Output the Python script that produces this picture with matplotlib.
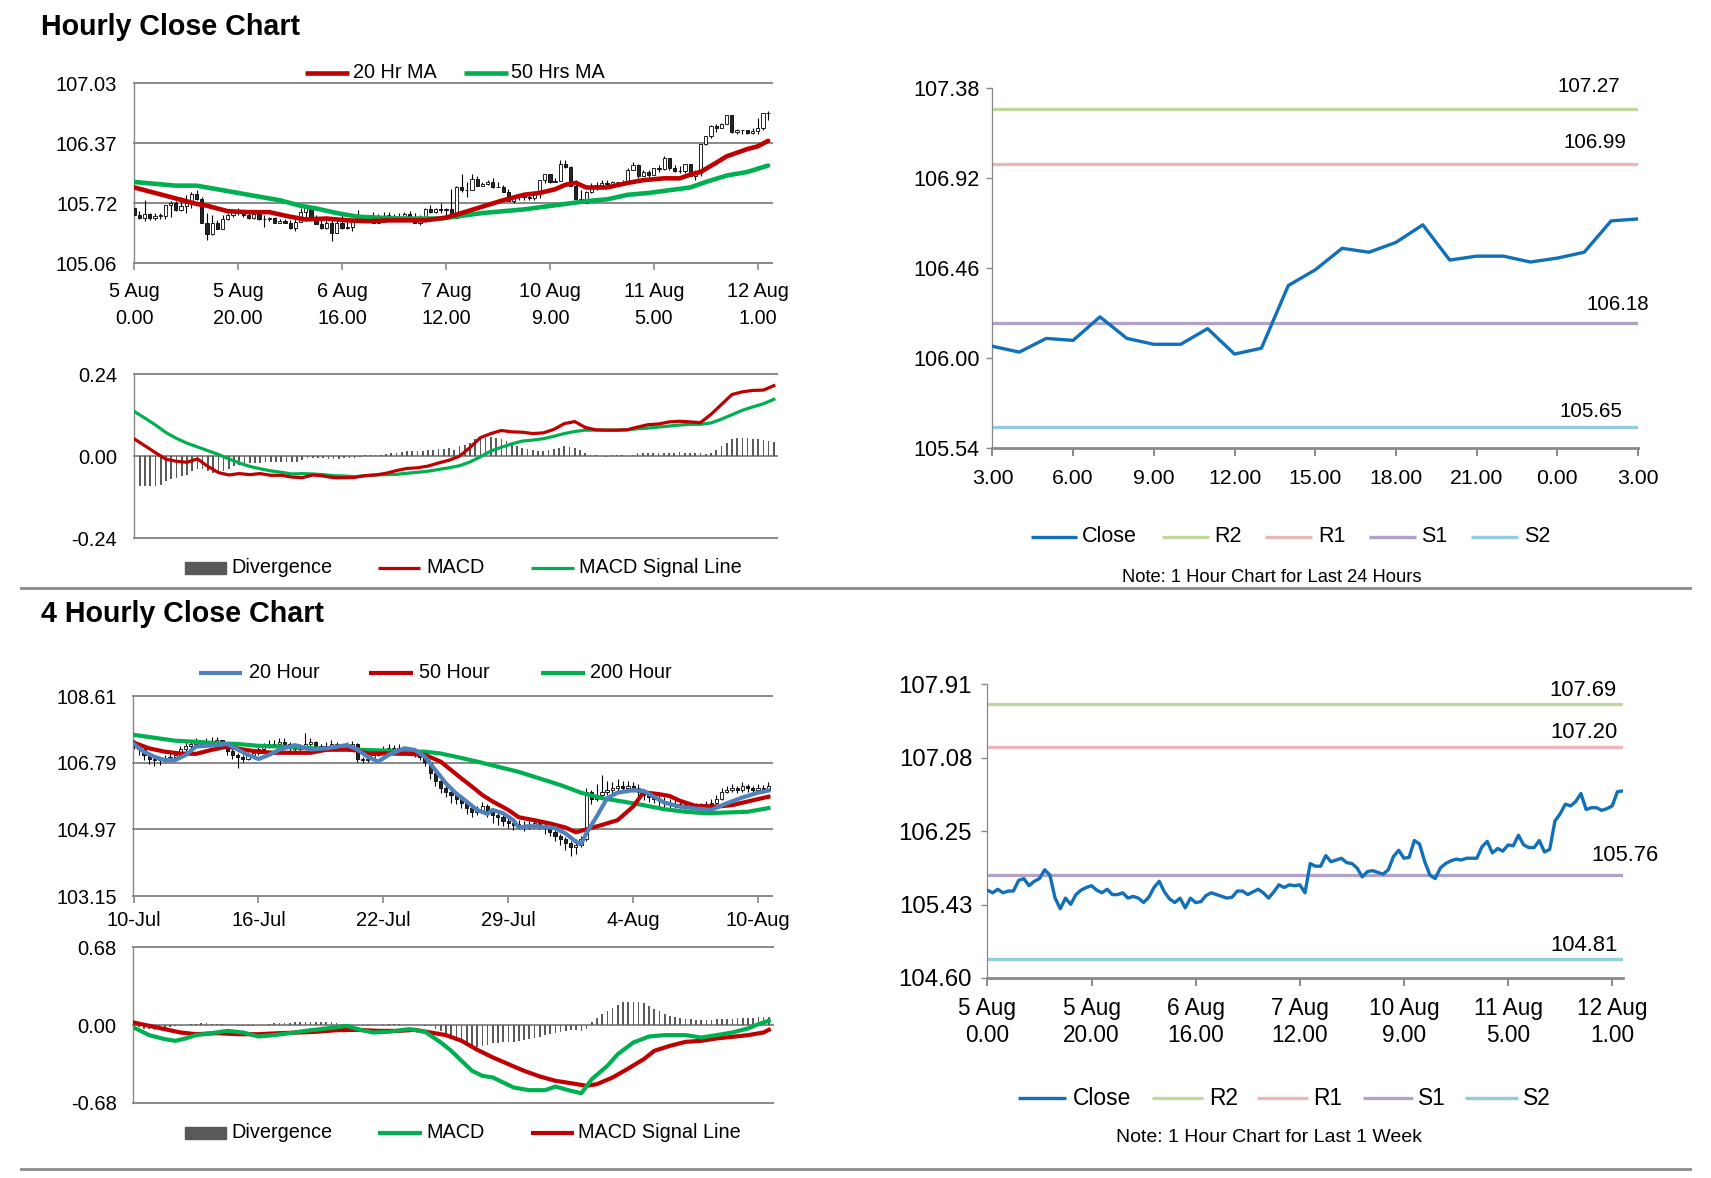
import numpy as np
import matplotlib
matplotlib.use("Agg")
import matplotlib.pyplot as plt
from matplotlib.lines import Line2D
from matplotlib.patches import Rectangle

plt.rcParams['font.family'] = ['Liberation Sans', 'DejaVu Sans']

# ---------------- data: hourly (last week) ----------------
hourly_close = [
    105.59, 105.56, 105.60, 105.56, 105.58, 105.58, 105.70, 105.72, 105.64, 105.69,
    105.72, 105.82, 105.76, 105.50, 105.38, 105.50, 105.43, 105.54, 105.59, 105.62,
    105.64, 105.59, 105.56, 105.60, 105.54, 105.54, 105.56, 105.50, 105.52, 105.50,
    105.45, 105.51, 105.62, 105.69, 105.57, 105.49, 105.45, 105.50, 105.39, 105.50,
    105.45, 105.46, 105.53, 105.56, 105.54, 105.52, 105.50, 105.51, 105.58, 105.58,
    105.54, 105.57, 105.60, 105.56, 105.50, 105.57, 105.65, 105.62, 105.65, 105.64,
    105.65, 105.56, 105.89, 105.86, 105.86, 105.98, 105.91, 105.93, 105.95, 105.90,
    105.89, 105.84, 105.74, 105.80, 105.81, 105.79, 105.77, 105.82, 105.97, 106.04,
    105.95, 105.96, 106.15, 106.11, 105.91, 105.76, 105.72, 105.84, 105.89, 105.92,
    105.94, 105.93, 105.95, 105.95, 105.95, 106.08, 106.14, 106.01,
    106.06, 106.03, 106.10, 106.09, 106.21, 106.10, 106.07, 106.07, 106.15, 106.02,
    106.05, 106.37, 106.45, 106.56, 106.54, 106.59, 106.68, 106.50, 106.52, 106.52,
    106.49, 106.51, 106.54, 106.70, 106.71]
hourly_first_open = 105.66
hourly_high = [
    105.77, 105.63, 105.75, 105.61, 105.61, 105.61, 105.70, 105.74, 105.74, 105.79,
    105.81, 105.84, 105.86, 105.79, 105.61, 105.59, 105.53, 105.59, 105.61, 105.64,
    105.66, 105.64, 105.63, 105.61, 105.61, 105.59, 105.57, 105.57, 105.55, 105.55,
    105.53, 105.55, 105.66, 105.70, 105.66, 105.59, 105.55, 105.53, 105.55, 105.55,
    105.61, 105.52, 105.50, 105.64, 105.59, 105.57, 105.62, 105.60, 105.62, 105.62,
    105.60, 105.61, 105.62, 105.63, 105.61, 105.59, 105.67, 105.70, 105.66, 105.72,
    105.66, 105.87, 105.91, 106.04, 105.95, 106.04, 106.01, 105.95, 105.97, 105.99,
    105.95, 105.92, 105.87, 105.79, 105.81, 105.79, 105.81, 105.81, 105.97, 106.04,
    106.04, 105.99, 106.19, 106.19, 106.12, 105.97, 105.86, 105.85, 105.94, 105.95,
    105.97, 105.97, 105.96, 105.95, 105.97, 106.10, 106.17, 106.15, 106.08, 106.08,
    106.10, 106.14, 106.23, 106.21, 106.14, 106.12, 106.15, 106.15, 106.08, 106.37,
    106.45, 106.57, 106.59, 106.60, 106.67, 106.67, 106.53, 106.52, 106.52, 106.54,
    106.65, 106.70, 106.73]
hourly_low = [
    105.59, 105.55, 105.52, 105.53, 105.53, 105.54, 105.55, 105.57, 105.63, 105.63,
    105.61, 105.66, 105.75, 105.50, 105.32, 105.37, 105.43, 105.44, 105.53, 105.57,
    105.59, 105.57, 105.55, 105.55, 105.53, 105.46, 105.52, 105.50, 105.50, 105.50,
    105.44, 105.41, 105.52, 105.57, 105.57, 105.50, 105.44, 105.44, 105.30, 105.39,
    105.44, 105.44, 105.41, 105.53, 105.53, 105.52, 105.52, 105.50, 105.55, 105.55,
    105.52, 105.55, 105.57, 105.57, 105.55, 105.48, 105.59, 105.61, 105.61, 105.61,
    105.59, 105.59, 105.61, 105.84, 105.79, 105.86, 105.92, 105.91, 105.92, 105.88,
    105.89, 105.86, 105.76, 105.72, 105.75, 105.75, 105.75, 105.75, 105.77, 105.94,
    105.94, 105.95, 105.97, 106.10, 105.95, 105.79, 105.75, 105.75, 105.83, 105.86,
    105.90, 105.92, 105.92, 105.92, 105.92, 105.95, 106.08, 105.99, 106.01, 106.00,
    106.03, 106.06, 106.08, 106.08, 106.06, 106.05, 106.05, 106.03, 105.97, 106.01,
    106.36, 106.43, 106.50, 106.54, 106.58, 106.49, 106.47, 106.47, 106.47, 106.47,
    106.48, 106.52, 106.63]

ma20_hours = [0, 4, 8, 12, 14, 18, 22, 26, 30, 33, 37, 41, 45, 49, 53, 56, 60, 63, 67,
              71, 75, 78, 81, 83, 85, 87, 91, 95, 98, 102, 105, 107, 109, 112, 114, 118, 120, 122]
ma20_vals = [105.89, 105.83, 105.77, 105.71, 105.69, 105.63, 105.62, 105.62, 105.57, 105.54,
             105.55, 105.53, 105.52, 105.53, 105.53, 105.53, 105.56, 105.61, 105.68, 105.75,
             105.81, 105.83, 105.87, 105.92, 105.94, 105.89, 105.89, 105.94, 105.97, 105.99,
             105.99, 106.03, 106.06, 106.16, 106.23, 106.31, 106.34, 106.40]
ma50_hours = [0, 4, 8, 12, 16, 20, 24, 28, 32, 35, 39, 43, 47, 51, 55, 59, 63, 67, 71, 75,
              79, 83, 87, 91, 95, 99, 103, 107, 110, 114, 118, 122]
ma50_vals = [105.95, 105.93, 105.91, 105.91, 105.87, 105.83, 105.79, 105.75, 105.69, 105.66,
             105.61, 105.57, 105.56, 105.55, 105.55, 105.55, 105.58, 105.61, 105.63, 105.65,
             105.68, 105.71, 105.74, 105.76, 105.81, 105.83, 105.86, 105.89, 105.95, 106.02,
             106.06, 106.13]

macd1_hours = list(range(0, 123, 2))
macd1_vals = [0.050, 0.030, 0.010, -0.009, -0.015, -0.018, -0.008, -0.030, -0.048, -0.055,
              -0.051, -0.054, -0.051, -0.056, -0.056, -0.061, -0.063, -0.055, -0.058, -0.063,
              -0.063, -0.062, -0.057, -0.055, -0.050, -0.042, -0.036, -0.034, -0.029, -0.020,
              -0.012, 0.000, 0.025, 0.054, 0.066, 0.075, 0.071, 0.070, 0.066, 0.068,
              0.078, 0.095, 0.101, 0.084, 0.077, 0.076, 0.076, 0.077, 0.085, 0.092,
              0.094, 0.100, 0.102, 0.100, 0.098, 0.122, 0.151, 0.180, 0.188, 0.192,
              0.193, 0.206]
signal1_vals = [0.130, 0.111, 0.091, 0.069, 0.052, 0.038, 0.027, 0.016, 0.005, -0.008,
                -0.020, -0.030, -0.037, -0.043, -0.047, -0.052, -0.051, -0.052, -0.054, -0.057,
                -0.058, -0.060, -0.057, -0.055, -0.054, -0.053, -0.050, -0.047, -0.044, -0.039,
                -0.034, -0.028, -0.017, -0.002, 0.015, 0.026, 0.036, 0.044, 0.047, 0.051,
                0.058, 0.066, 0.072, 0.076, 0.076, 0.076, 0.076, 0.077, 0.080, 0.082,
                0.085, 0.088, 0.091, 0.093, 0.093, 0.097, 0.108, 0.121, 0.134, 0.144,
                0.153, 0.166]
div1_vals = [
    -0.083, -0.086, -0.086, -0.086, -0.086, -0.083, -0.073, -0.066, -0.063, -0.058,
    -0.054, -0.044, -0.039, -0.037, -0.044, -0.049, -0.047, -0.042, -0.037, -0.029,
    -0.027, -0.024, -0.021, -0.021, -0.019, -0.018, -0.018, -0.018, -0.017, -0.018,
    -0.018, -0.017, -0.010, -0.005, -0.004, -0.005, -0.006, -0.008, -0.008, -0.008,
    -0.006, -0.006, -0.005, -0.002, 0.004, 0.004, 0.004, 0.004, 0.006, 0.008,
    0.010, 0.012, 0.014, 0.014, 0.014, 0.015, 0.019, 0.019, 0.021, 0.021,
    0.024, 0.019, 0.029, 0.034, 0.037, 0.049, 0.051, 0.054, 0.056, 0.054,
    0.049, 0.044, 0.037, 0.029, 0.024, 0.021, 0.018, 0.015, 0.015, 0.019,
    0.021, 0.023, 0.031, 0.027, 0.023, 0.018, 0.008, 0.004, 0.002, 0.000,
    -0.002, 0.002, 0.002, 0.002, 0.000, 0.004, 0.008, 0.010, 0.010, 0.010,
    0.010, 0.010, 0.010, 0.010, 0.012, 0.010, 0.010, 0.010, 0.008, 0.005,
    0.008, 0.019, 0.029, 0.039, 0.049, 0.054, 0.054, 0.052, 0.051, 0.049,
    0.047, 0.044, 0.041]

week_xlabels = ["5 Aug\n0.00", "5 Aug\n20.00", "6 Aug\n16.00", "7 Aug\n12.00",
                "10 Aug\n9.00", "11 Aug\n5.00", "12 Aug\n1.00"]
tl_ylabels = ["105.06", "105.72", "106.37", "107.03"]
tr_ylabels = ["105.54", "106.00", "106.46", "106.92", "107.38"]
tr_xlabels = ["3.00", "6.00", "9.00", "12.00", "15.00", "18.00", "21.00", "0.00", "3.00"]
br_ylabels = ["104.60", "105.43", "106.25", "107.08", "107.91"]
level_names = ["R2", "R1", "S1", "S2"]
levels_24h = [107.27, 106.99, 106.18, 105.65]
levels_1w = [107.69, 107.20, 105.76, 104.81]

# ---------------- data: 4 hourly ----------------
fh_close = [
    107.25, 107.15, 107.00, 106.90, 106.85, 106.85, 106.90, 106.95, 107.00, 107.15,
    107.25, 107.30, 107.35, 107.30, 107.35, 107.35, 107.40, 107.30, 107.10, 107.00,
    106.95, 106.90, 107.00, 107.05, 107.15, 107.25, 107.30, 107.30, 107.35, 107.30,
    107.20, 107.15, 107.20, 107.30, 107.35, 107.25, 107.20, 107.25, 107.30, 107.20,
    107.20, 107.25, 107.30, 106.90, 106.85, 106.90, 107.00, 107.10, 107.15, 107.20,
    107.15, 107.20, 107.10, 107.10, 107.05, 106.95, 106.80, 106.50, 106.30, 106.10,
    106.00, 105.90, 105.80, 105.70, 105.55, 105.45, 105.50, 105.60, 105.45, 105.35,
    105.30, 105.20, 105.15, 105.10, 105.10, 105.05, 105.10, 105.15, 105.10, 105.00,
    104.90, 104.80, 104.70, 104.60, 104.50, 104.55, 104.70, 106.00, 105.80, 105.90,
    106.00, 106.05, 106.10, 106.15, 106.10, 106.15, 106.10, 106.00, 105.90, 105.85,
    105.80, 105.75, 105.70, 105.65, 105.65, 105.65, 105.60, 105.60, 105.55, 105.60,
    105.65, 105.70, 105.80, 106.00, 106.05, 106.10, 106.05, 106.15, 106.10, 106.05,
    106.10, 106.05, 106.15]
fh_first_open = 107.35
fh_high = [
    107.40, 107.30, 107.20, 107.05, 107.00, 106.95, 107.00, 107.05, 107.10, 107.25,
    107.35, 107.40, 107.45, 107.42, 107.45, 107.50, 107.50, 107.42, 107.32, 107.15,
    107.05, 107.00, 107.08, 107.12, 107.22, 107.32, 107.40, 107.42, 107.45, 107.45,
    107.35, 107.25, 107.30, 107.60, 107.45, 107.38, 107.30, 107.35, 107.40, 107.35,
    107.30, 107.35, 107.38, 107.32, 106.95, 107.00, 107.08, 107.18, 107.25, 107.30,
    107.28, 107.30, 107.25, 107.20, 107.15, 107.10, 107.00, 106.85, 106.55, 106.35,
    106.20, 106.10, 105.95, 105.85, 105.75, 105.65, 105.62, 105.72, 105.65, 105.50,
    105.45, 105.35, 105.30, 105.25, 105.22, 105.20, 105.20, 105.28, 105.25, 105.15,
    105.05, 104.95, 104.85, 104.75, 104.65, 104.70, 104.80, 106.10, 106.05, 106.20,
    106.45, 106.30, 106.25, 106.35, 106.28, 106.30, 106.25, 106.20, 106.08, 106.00,
    105.95, 105.90, 105.85, 105.80, 105.78, 105.75, 105.72, 105.70, 105.68, 105.70,
    105.75, 105.80, 105.90, 106.10, 106.15, 106.20, 106.15, 106.25, 106.22, 106.15,
    106.20, 106.18, 106.25]
fh_low = [
    107.15, 107.00, 106.85, 106.75, 106.70, 106.72, 106.80, 106.85, 106.90, 106.95,
    107.10, 107.20, 107.25, 107.22, 107.25, 107.28, 107.30, 107.20, 107.00, 106.90,
    106.65, 106.80, 106.85, 106.95, 107.00, 107.10, 107.20, 107.22, 107.25, 107.20,
    107.12, 107.05, 107.10, 107.18, 107.25, 107.15, 107.12, 107.15, 107.20, 107.12,
    107.10, 107.15, 107.20, 106.80, 106.78, 106.80, 106.88, 106.98, 107.05, 107.10,
    107.05, 107.10, 107.02, 107.00, 106.95, 106.85, 106.70, 106.35, 106.15, 105.95,
    105.85, 105.70, 105.65, 105.55, 105.40, 105.30, 105.35, 105.45, 105.30, 105.15,
    105.10, 105.05, 105.00, 104.95, 104.98, 104.92, 104.98, 105.02, 104.98, 104.85,
    104.78, 104.65, 104.55, 104.40, 104.25, 104.30, 104.50, 104.65, 105.65, 105.75,
    105.85, 105.90, 105.95, 106.00, 105.98, 106.00, 105.98, 105.88, 105.78, 105.72,
    105.68, 105.62, 105.58, 105.55, 105.55, 105.55, 105.50, 105.50, 105.42, 105.48,
    105.55, 105.60, 105.65, 105.78, 105.95, 105.98, 105.95, 106.00, 106.00, 105.95,
    106.00, 105.95, 106.02]

ma20b_bars = [0, 2, 4, 6, 8, 10, 12, 16, 18, 20, 22, 24, 26, 28, 31, 34, 37, 41, 43, 45, 47, 49,
              52, 54, 56, 58, 60, 62, 64, 66, 68, 69, 71, 73, 74, 76, 79, 81, 83, 85, 86, 87, 89,
              91, 93, 96, 98, 100, 102, 105, 108, 111, 114, 117, 120, 122]
ma20b_vals = [107.30, 107.09, 106.95, 106.86, 106.86, 107.00, 107.23, 107.27, 107.30, 107.15,
              107.00, 106.89, 107.00, 107.14, 107.27, 107.15, 107.18, 107.27, 107.15, 106.95,
              106.82, 107.00, 107.18, 107.14, 106.95, 106.59, 106.23, 105.95, 105.73, 105.50,
              105.39, 105.50, 105.41, 105.22, 105.02, 105.06, 105.04, 105.00, 104.86, 104.63,
              104.57, 104.86, 105.32, 105.82, 105.97, 106.04, 106.02, 105.86, 105.70, 105.59,
              105.54, 105.50, 105.68, 105.84, 105.97, 106.03]
ma50b_bars = [0, 3, 6, 9, 12, 15, 18, 21, 24, 27, 30, 34, 37, 41, 43, 45, 49, 53, 56, 59, 61,
              63, 65, 67, 69, 72, 74, 77, 80, 83, 85, 87, 90, 93, 96, 98, 101, 103, 105, 108,
              112, 115, 118, 122]
ma50b_vals = [107.34, 107.18, 107.09, 107.04, 107.03, 107.14, 107.23, 107.15, 107.09, 107.06,
              107.06, 107.06, 107.14, 107.15, 107.12, 107.04, 107.04, 107.03, 107.00, 106.82,
              106.59, 106.36, 106.14, 105.91, 105.73, 105.50, 105.30, 105.22, 105.13, 105.02,
              104.89, 104.97, 105.09, 105.22, 105.59, 105.98, 105.93, 105.88, 105.75, 105.61,
              105.59, 105.63, 105.73, 105.86]
ma200b_bars = [0, 4, 8, 12, 16, 20, 24, 28, 32, 36, 40, 44, 48, 52, 56, 59, 62, 66, 70, 74,
               78, 82, 86, 90, 94, 98, 102, 106, 110, 114, 118, 122]
ma200b_vals = [107.55, 107.47, 107.39, 107.36, 107.32, 107.30, 107.25, 107.23, 107.20, 107.17,
               107.15, 107.14, 107.12, 107.10, 107.09, 107.04, 106.95, 106.82, 106.68, 106.54,
               106.36, 106.18, 105.97, 105.82, 105.73, 105.63, 105.52, 105.45, 105.41, 105.43,
               105.45, 105.55]

macd2_bars = [0, 3, 6, 8, 10, 12, 15, 18, 21, 24, 27, 30, 33, 37, 41, 43, 46, 49, 53, 56, 59,
              61, 63, 65, 67, 69, 71, 73, 76, 79, 81, 84, 86, 88, 91, 93, 96, 99, 102, 106, 109,
              112, 115, 118, 120, 122]
macd2_vals = [-0.020, -0.087, -0.122, -0.137, -0.116, -0.087, -0.070, -0.050, -0.064, -0.099,
              -0.087, -0.070, -0.050, -0.029, -0.006, -0.035, -0.064, -0.058, -0.035, -0.058,
              -0.151, -0.224, -0.312, -0.399, -0.443, -0.457, -0.501, -0.545, -0.568, -0.568,
              -0.536, -0.574, -0.594, -0.472, -0.355, -0.253, -0.151, -0.099, -0.087, -0.087,
              -0.108, -0.087, -0.064, -0.029, 0.009, 0.038]
signal2_bars = [0, 3, 6, 9, 12, 16, 20, 24, 28, 32, 35, 39, 43, 47, 51, 54, 57, 60, 63, 66,
                69, 72, 75, 78, 81, 84, 87, 89, 92, 95, 98, 100, 103, 106, 109, 112, 115, 118,
                121, 122]
signal2_vals = [0.023, -0.006, -0.035, -0.064, -0.079, -0.070, -0.079, -0.079, -0.070, -0.064,
                -0.058, -0.044, -0.041, -0.050, -0.050, -0.041, -0.064, -0.087, -0.137, -0.215,
                -0.282, -0.341, -0.399, -0.448, -0.486, -0.507, -0.530, -0.515, -0.457, -0.379,
                -0.297, -0.224, -0.181, -0.146, -0.137, -0.116, -0.102, -0.087, -0.064, -0.041]
div2_vals = [
    -0.010, -0.020, -0.030, -0.035, -0.040, -0.035, -0.030, -0.020, -0.010, -0.005,
    0.000, 0.010, 0.012, 0.015, 0.015, 0.012, 0.010, 0.010, 0.005, 0.000,
    -0.005, -0.010, -0.010, -0.005, 0.000, 0.005, 0.010, 0.015, 0.020, 0.020,
    0.020, 0.025, 0.025, 0.030, 0.030, 0.030, 0.030, 0.030, 0.025, 0.020,
    0.010, 0.000, -0.005, -0.010, -0.010, -0.005, 0.000, 0.005, 0.010, 0.010,
    0.010, 0.010, 0.005, 0.000, 0.000, 0.000, -0.005, -0.010, -0.030, -0.050,
    -0.070, -0.090, -0.120, -0.150, -0.170, -0.180, -0.190, -0.180, -0.170, -0.160,
    -0.160, -0.150, -0.150, -0.150, -0.140, -0.130, -0.120, -0.110, -0.100, -0.090,
    -0.080, -0.070, -0.060, -0.050, -0.040, -0.040, -0.050, -0.030, 0.030, 0.060,
    0.100, 0.120, 0.150, 0.180, 0.200, 0.200, 0.200, 0.200, 0.190, 0.170,
    0.140, 0.120, 0.100, 0.080, 0.070, 0.060, 0.050, 0.050, 0.045, 0.045,
    0.045, 0.045, 0.050, 0.050, 0.050, 0.055, 0.060, 0.060, 0.065, 0.065,
    0.070, 0.070, 0.070]
bl_ylabels = ["103.15", "104.97", "106.79", "108.61"]
bl_xlabels = ["10-Jul", "16-Jul", "22-Jul", "29-Jul", "4-Aug", "10-Aug"]

# ---------------- styling ----------------
W, H = 1711, 1178
RED = '#C00000'
GREEN = '#00B050'
BLUE20 = '#4F81BD'
CLOSE = '#1170B8'
LEVEL_COLORS = ['#C3D69B', '#E6B9B8', '#B3A2C7', '#93CDDD']
GRID = '#898989'
DIVC = '#5A5A5A'

fig = plt.figure(figsize=(W / 100, H / 100), dpi=100)
fig.patch.set_facecolor('white')


def ax_at(x0, y0, x1, y1):
    return fig.add_axes([x0 / W, 1 - y1 / H, (x1 - x0) / W, (y1 - y0) / H])


def fx(x):
    return x / W


def fy(y):
    return 1 - y / H


def leg_line(x0, x1, y, color, lw):
    fig.add_artist(Line2D([fx(x0), fx(x1)], [fy(y), fy(y)], color=color, lw=lw,
                          transform=fig.transFigure, solid_capstyle='butt'))


def leg_patch(x0, x1, y, h, color):
    fig.add_artist(Rectangle((fx(x0), fy(y + h / 2)), (x1 - x0) / W, h / H, color=color,
                             transform=fig.transFigure))


def leg_text(x, y, s, fs):
    fig.text(fx(x), fy(y), s, fontsize=fs, va='center', ha='left')


def candles(ax, closes, opens, highs, lows, width=0.62):
    for i in range(len(closes)):
        o, c = opens[i], closes[i]
        hi = max(highs[i], o, c)
        lo = min(lows[i], o, c)
        ax.plot([i, i], [lo, hi], color='black', lw=0.8, zorder=2, solid_capstyle='butt')
        b0, b1 = min(o, c), max(o, c)
        face = '#262626' if c < o else 'white'
        ax.add_patch(Rectangle((i - width / 2, b0), width, max(b1 - b0, 0.004),
                               facecolor=face, edgecolor='black', lw=0.6, zorder=3))


def grid_axes(ax, lo, hi, labels, fs, ypad):
    ticks = list(np.linspace(lo, hi, len(labels)))
    ax.set_ylim(lo, hi)
    for s in ['top', 'right']:
        ax.spines[s].set_visible(False)
    ax.spines['left'].set_color(GRID)
    ax.spines['left'].set_linewidth(1.0)
    ax.spines['bottom'].set_color(GRID)
    ax.spines['bottom'].set_linewidth(1.4)
    for v in ticks[1:]:
        ax.axhline(v, color=GRID, lw=1.4, zorder=0, clip_on=False)
    ax.set_yticks(ticks, labels)
    ax.tick_params(axis='y', length=0, pad=ypad, labelsize=fs)


# ================= top-left: hourly candles =================
ax1 = ax_at(134, 83.3, 772, 263.3)
opens1 = [hourly_first_open] + hourly_close[:-1]
candles(ax1, hourly_close, opens1, hourly_high, hourly_low)
ax1.plot(ma50_hours, ma50_vals, color=GREEN, lw=3.3, zorder=4, solid_capstyle='round')
ax1.plot(ma20_hours, ma20_vals, color=RED, lw=3.3, zorder=5, solid_capstyle='round')
ax1.set_xlim(-0.05, 122.75)
grid_axes(ax1, 105.06, 107.03, tl_ylabels, 14.5, 12)
ax1.set_xticks(range(0, 121, 20), week_xlabels)
ax1.tick_params(axis='x', length=5, color=GRID, width=1.2, pad=8.5, labelsize=14.3)
for t in ax1.get_xticklabels():
    t.set_linespacing(1.52)

leg_line(305, 349, 72.7, RED, 3.3)
leg_text(353, 72.7, "20 Hr MA", 14.3)
leg_line(464, 508, 72.7, GREEN, 3.3)
leg_text(511, 72.7, "50 Hrs MA", 14.3)
fig.text(fx(41), fy(35), "Hourly Close Chart", fontsize=20.6, weight='bold', va='baseline')

# ================= top-left MACD =================
ax2 = ax_at(134, 374, 777, 538.3)
x_div1 = list(range(len(div1_vals)))
ax2.bar(x_div1, div1_vals, width=0.32, color=DIVC, zorder=2)
ax2.plot(macd1_hours, signal1_vals, color=GREEN, lw=2.3, zorder=3)
ax2.plot(macd1_hours, macd1_vals, color=RED, lw=2.3, zorder=4)
ax2.set_xlim(-0.1, 122.6)
grid_axes(ax2, -0.24, 0.24, ["-0.24", "0.00", "0.24"], 14.5, 12)
ax2.set_xticks([])
leg_patch(185, 226, 567.7, 12, '#595959')
leg_text(231, 567.7, "Divergence", 14.3)
leg_line(378, 420, 567.7, RED, 2.3)
leg_text(426, 567.7, "MACD", 14.3)
leg_line(531, 574, 567.7, GREEN, 2.3)
leg_text(579, 567.7, "MACD Signal Line", 14.3)


# ================= right charts =================
def level_axes(ax, xs, ys, levels, lo, hi, ylabels, fs, xfs):
    for lv, colr in zip(levels, LEVEL_COLORS):
        ax.plot([xs[0], xs[-1]], [lv, lv], color=colr, lw=2.4, zorder=2, solid_capstyle='butt')
    ax.plot(xs, ys, color=CLOSE, lw=2.4, zorder=3)
    ax.set_ylim(lo, hi)
    ax.set_yticks(list(np.linspace(lo, hi, len(ylabels))), ylabels)
    for s in ['top', 'right']:
        ax.spines[s].set_visible(False)
    ax.spines['left'].set_color(GRID)
    ax.spines['left'].set_linewidth(0.9)
    ax.spines['bottom'].set_color(GRID)
    ax.spines['bottom'].set_linewidth(2.0)
    ax.tick_params(axis='y', length=4, color=GRID, width=1, pad=5, labelsize=fs)
    ax.tick_params(axis='x', length=6, color=GRID, width=1.4, labelsize=xfs)


ax3 = ax_at(992.4, 87.7, 1638, 448.1)
last24 = hourly_close[98:]
x24 = list(range(len(last24)))
level_axes(ax3, x24, last24, levels_24h, 105.54, 107.38, tr_ylabels, 15.6, 15.3)
ax3.set_xlim(0, 24)
ax3.set_xticks(range(0, 25, 3), tr_xlabels)
ax3.tick_params(axis='x', pad=9)
for (cx, cy), lv in zip([(1589, 86.5), (1595, 142.3), (1618, 305), (1591, 411.5)], levels_24h):
    fig.text(fx(cx), fy(cy), f"{lv:.2f}", fontsize=14.8, ha='center', va='center')
leg_y = 536.5
for (l0, l1, tx), name, colr in zip([(1031, 1077, 1082), (1162, 1209, 1214), (1265, 1312, 1318),
                                      (1369, 1416, 1421), (1471, 1518, 1524)],
                                     ["Close"] + level_names, [CLOSE] + LEVEL_COLORS):
    leg_line(l0, l1, leg_y, colr, 2.4)
    leg_text(tx, leg_y, name, 15.5)
fig.text(fx(1272), fy(577), "Note: 1 Hour Chart for Last 24 Hours", fontsize=13.2,
         ha='center', va='center')

ax6 = ax_at(987.4, 684.5, 1622.6, 977.9)
xw = list(range(len(hourly_close)))
level_axes(ax6, xw, hourly_close, levels_1w, 104.60, 107.91, br_ylabels, 17.3, 16.3)
ax6.tick_params(axis='y', pad=7)
ax6.set_xlim(0, 122)
ax6.set_xticks(range(0, 121, 20), week_xlabels)
ax6.tick_params(axis='x', pad=7.5)
for t in ax6.get_xticklabels():
    t.set_linespacing(1.25)
for (cx, cy), lv in zip([(1583, 690.8), (1584, 732.3), (1625, 855.6), (1584, 945.3)], levels_1w):
    fig.text(fx(cx), fy(cy), f"{lv:.2f}", fontsize=15.8, ha='center', va='center')
leg_y = 1098.3
for (l0, l1, tx), name, colr in zip([(1018, 1066, 1073), (1152, 1203, 1209), (1257, 1308, 1313),
                                      (1363, 1413, 1418), (1465, 1518, 1523)],
                                     ["Close"] + level_names, [CLOSE] + LEVEL_COLORS):
    leg_line(l0, l1, leg_y, colr, 2.4)
    leg_text(tx, leg_y, name, 16.4)
fig.text(fx(1269), fy(1137), "Note: 1 Hour Chart for Last 1 Week", fontsize=14,
         ha='center', va='center')

# ================= bottom-left: 4 hourly candles =================
ax4 = ax_at(133.3, 696, 771.8, 896)
opens4 = [fh_first_open] + fh_close[:-1]
candles(ax4, fh_close, opens4, fh_high, fh_low)
ax4.plot(ma200b_bars, ma200b_vals, color=GREEN, lw=3.0, zorder=4)
ax4.plot(ma50b_bars, ma50b_vals, color=RED, lw=3.0, zorder=5)
ax4.plot(ma20b_bars, ma20b_vals, color=BLUE20, lw=3.0, zorder=6)
ax4.set_xlim(-0.05, 122.65)
grid_axes(ax4, 103.15, 108.61, bl_ylabels, 14.2, 12)
ax4.set_xticks(range(0, 121, 24), bl_xlabels)
ax4.tick_params(axis='x', length=5, color=GRID, width=1.2, pad=6, labelsize=14.5)
fig.text(fx(41), fy(622), "4 Hourly Close Chart", fontsize=20.6, weight='bold', va='baseline')
leg_line(199, 242, 673, BLUE20, 3.0)
leg_text(249, 673, "20 Hour", 14.3)
leg_line(369, 413, 673, RED, 3.0)
leg_text(419, 673, "50 Hour", 14.3)
leg_line(541, 585, 673, GREEN, 3.0)
leg_text(590, 673, "200 Hour", 14.3)

# ================= bottom-left MACD =================
ax5 = ax_at(133.3, 947.3, 773, 1103)
x_div2 = list(range(len(div2_vals)))
ax5.bar(x_div2, div2_vals, width=0.32, color=DIVC, zorder=2)
ax5.plot(signal2_bars, signal2_vals, color=RED, lw=3.0, zorder=3)
ax5.plot(macd2_bars, macd2_vals, color=GREEN, lw=3.0, zorder=4)
ax5.set_xlim(-0.05, 122.8)
grid_axes(ax5, -0.68, 0.68, ["-0.68", "0.00", "0.68"], 14.5, 12)
ax5.set_xticks([])
leg_patch(185, 226, 1133, 12, '#595959')
leg_text(231, 1133, "Divergence", 14.3)
leg_line(378, 422, 1133, GREEN, 3.0)
leg_text(426, 1133, "MACD", 14.3)
leg_line(531, 574, 1133, RED, 3.0)
leg_text(578, 1133, "MACD Signal Line", 14.3)

# separators
for yy in [587.7, 1169.3]:
    fig.add_artist(Line2D([fx(20.5), fx(1690)], [fy(yy), fy(yy)], color='#8C8C8C', lw=2.0,
                          transform=fig.transFigure))

fig.savefig("out.png", dpi=100, facecolor='white')
